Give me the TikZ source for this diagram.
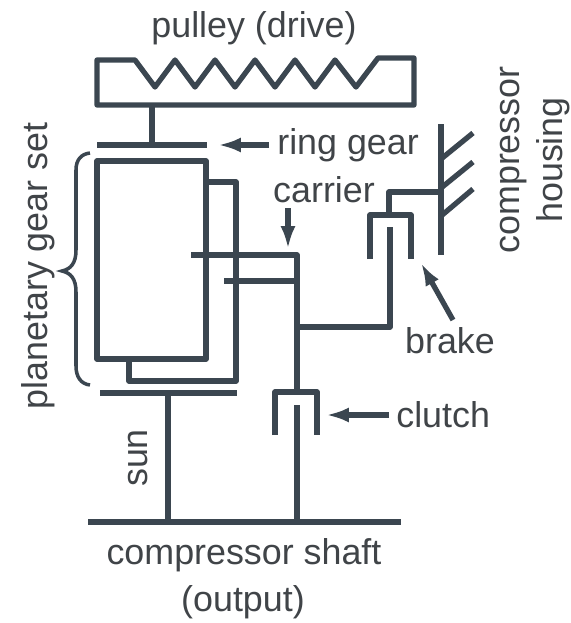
\documentclass[tikz,border=0pt]{standalone}
\usepackage{fontspec}
\setmainfont{Liberation Sans}
\usetikzlibrary{arrows.meta}
\definecolor{mygray1}{RGB}{59, 70, 80}
\definecolor{mygray2}{RGB}{64, 68, 72}
\tikzset{>={Latex[length=13pt,width=8.5pt]},
  part/.style={line width=3pt, color=mygray1, line join=round},
  lbl/.style={text=mygray2, font=\fontsize{20.4}{24.4}\selectfont, inner sep=0pt},
  pointer/.style={->, line width=3pt, color=mygray1}}
\begin{document}
\begin{tikzpicture}[x=0.02cm,y=-0.02cm]
\useasboundingbox (0,0) rectangle (571,623);
% pulley
\draw[part] (135,60) -- (97,60) -- (97,105) -- (414,105) -- (414,58) -- (378,58) -- (356,87) -- (335,60) -- (315,87) -- (295,60) -- (275,87) -- (255,60) -- (235,87) -- (215,60) -- (195,87) -- (175,60) -- (155,87) -- cycle;
\draw[part] (152,105) -- (152,145);
\draw[part] (97,145) -- (207,145);
% planet carrier, sun
\draw[part] (97,161) rectangle (206,359);
\draw[part] (206,182) -- (236,182) -- (236,381) -- (129,381) -- (129,359);
\draw[part] (100,393) -- (237,393);
\draw[part] (168,393) -- (168,522);
\draw[part] (191,255) -- (297,255) -- (297,392);
\draw[part] (224,281) -- (297,281);
\draw[part] (88,522) -- (401,522);
% clutch
\draw[part] (275,435) -- (275,392) -- (317,392) -- (317,435);
\draw[part] (297,405) -- (297,522);
% brake
\draw[part] (297,327) -- (390,327) -- (390,227);
\draw[part] (370,259) -- (370,215) -- (411,215) -- (411,259);
\draw[part] (389,215) -- (389,192) -- (441,192);
% housing
\draw[part] (441,124) -- (441,255);
\draw[part] (441,159) -- (473,133);
\draw[part] (441,188) -- (473,162);
\draw[part] (441,216) -- (473,189);
% brace
\draw[line width=2pt, color=mygray1] (90,153) .. controls (81,154) and (76,160) .. (76,170) -- (76,250) .. controls (76,263) and (71,269) .. (62,271) .. controls (71,273) and (76,279) .. (76,292) -- (76,366) .. controls (76,377) and (81,384) .. (90,385);
% labels
\node[lbl] (pulley) at (254,28) {pulley (drive)};
\node[lbl, anchor=west] (ring) at (277,145) {ring gear};
\node[lbl] (carrier) at (324,190) {carrier};
\node[lbl] (brake) at (450,341) {brake};
\node[lbl, anchor=west] (clutch) at (396,415) {clutch};
\node[lbl] (sun) at (138,458) [rotate=90] {sun};
\node[lbl] (planetary) at (38,266) [rotate=90] {planetary gear set};
\node[lbl, align=center] (housing) at (535,160) [rotate=90] {compressor\\housing};
\node[lbl] (shaft) at (244,555) {compressor shaft};
\node[lbl] (output) at (243,602) {(output)};
% pointers
\coordinate (ringtip) at (218,145);
\coordinate (carriertip) at (288,249);
\coordinate (braketip) at (421,263);
\coordinate (clutchtip) at (326,415);
\draw[pointer] (269,145) -- (ringtip);
\draw[pointer] (288,208) -- (carriertip);
\draw[pointer] (453,320) -- (braketip);
\draw[pointer] (389,415) -- (clutchtip);
\end{tikzpicture}
\end{document}
